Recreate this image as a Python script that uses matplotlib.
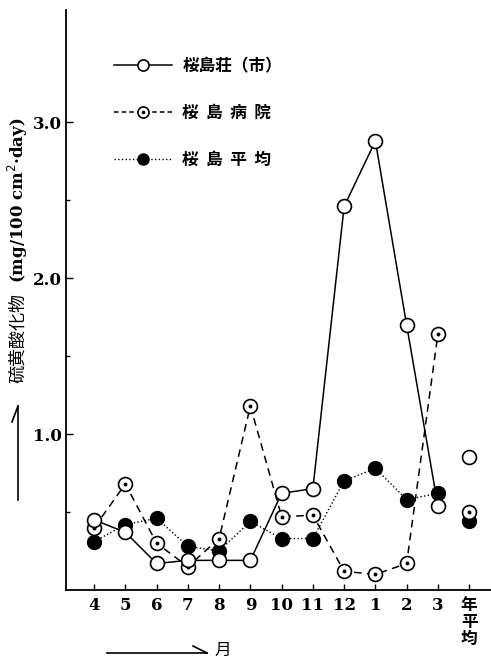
import matplotlib
matplotlib.use('Agg')
import matplotlib.pyplot as plt
from matplotlib.lines import Line2D
from matplotlib.legend_handler import HandlerTuple

# months Apr..Mar + annual mean
months = ['4', '5', '6', '7', '8', '9', '10', '11', '12', '1', '2', '3']
annual_label = '年\n平\n均'
xpos = list(range(4, 16))
x_annual = 16

# 桜島荘(市)
sou = [0.45, 0.37, 0.17, 0.19, 0.19, 0.19, 0.62, 0.65, 2.46, 2.88, 1.70, 0.54]
sou_avg = 0.85
# 桜島病院
byoin = [0.40, 0.68, 0.30, 0.15, 0.33, 1.18, 0.47, 0.48, 0.12, 0.10, 0.17, 1.64]
byoin_avg = 0.50
# 桜島平均
heikin = [0.31, 0.42, 0.46, 0.28, 0.25, 0.44, 0.33, 0.33, 0.70, 0.78, 0.58, 0.62]
heikin_avg = 0.44

W, H = 491, 663
fig = plt.figure(figsize=(W/100, H/100), dpi=100)
ax = fig.add_axes([66/W, 1-590/H, 1-66/W, 580/H])

ms = 10
mew = 1.2
lw = 1.1

def px(x, y):
    return x/W, 1-y/H

# solid / open circles
ax.plot(xpos, sou, '-', color='black', lw=lw, zorder=3)
# dashed / dotted circles
ax.plot(xpos, byoin, '--', color='black', lw=lw, dashes=(5, 3.5), zorder=2)
# dotted / filled circles
ax.plot(xpos, heikin, ':', color='black', lw=1.0, zorder=2)

ax.plot(xpos + [x_annual], heikin + [heikin_avg], 'o', ls='none', ms=ms, mfc='black', mec='black', zorder=4)
ax.plot(xpos + [x_annual], byoin + [byoin_avg], 'o', ls='none', ms=ms, mfc='white', mec='black', mew=mew, zorder=5)
ax.plot(xpos + [x_annual], byoin + [byoin_avg], 'o', ls='none', ms=1.8, mfc='black', mec='black', zorder=6)
ax.plot(xpos + [x_annual], sou + [sou_avg], 'o', ls='none', ms=ms, mfc='white', mec='black', mew=mew, zorder=7)

ax.set_xlim(3.1, 16.7)
ax.set_ylim(0, 3.72)
ax.spines['top'].set_visible(False)
ax.spines['right'].set_visible(False)
ax.spines['left'].set_linewidth(1.3)
ax.spines['bottom'].set_linewidth(1.3)

ax.set_yticks([1.0, 2.0, 3.0])
ax.set_yticks([0.5, 1.5, 2.5], minor=True)
ax.set_yticklabels(['1.0', '2.0', '3.0'], fontfamily='DejaVu Serif', fontweight='bold', fontsize=12)
ax.tick_params(axis='y', which='major', direction='in', length=5, width=1, pad=3)
ax.tick_params(axis='y', which='minor', direction='in', length=3, width=1)

ax.set_xticks(xpos + [x_annual])
ax.set_xticklabels(months + [annual_label], fontfamily=['DejaVu Serif', 'Noto Sans CJK JP'],
                   fontweight='bold', fontsize=12, va='top', linespacing=1.0)
ax.tick_params(axis='x', direction='in', length=4, width=1, pad=5)

# legend
lms = 8
h1 = Line2D([], [], color='black', lw=lw, marker='o', ms=lms, mfc='white', mec='black', mew=mew)
h2a = Line2D([], [], color='black', lw=lw, ls='--', dashes=(3, 2), marker='o', ms=lms, mfc='white', mec='black', mew=mew)
h2b = Line2D([], [], ls='none', marker='o', ms=1.6, mfc='black', mec='black')
h3 = Line2D([], [], color='black', lw=1.0, ls=':', marker='o', ms=lms, mfc='black', mec='black')
leg = ax.legend([h1, (h2a, h2b), h3], ['桜島荘（市）', '桜  島  病  院', '桜  島  平  均'],
                handler_map={tuple: HandlerTuple(ndivide=1)},
                loc='upper left', bbox_to_anchor=px(99, 42),
                bbox_transform=fig.transFigure, frameon=False, handlelength=3.5,
                labelspacing=1.75, handletextpad=0.6,
                prop={'family': 'Noto Sans CJK JP', 'size': 12, 'weight': 'bold'})

# y label
fig.text(*px(18, 383), '硫黄酸化物', rotation=90, ha='center', va='bottom',
         fontfamily='Noto Sans CJK JP', fontsize=13)
fig.text(*px(18, 283), '(mg/100 cm$^2$·day)', rotation=90, ha='center', va='bottom',
         fontfamily='DejaVu Serif', fontweight='bold', fontsize=12)

# vertical arrow
fig.add_artist(Line2D([px(18, 500)[0], px(18, 406)[0]], [px(18, 500)[1], px(18, 406)[1]],
                      color='black', lw=1.2, transform=fig.transFigure))
fig.add_artist(Line2D([px(18, 406)[0], px(12, 422)[0]], [px(18, 406)[1], px(12, 422)[1]],
                      color='black', lw=1.2, transform=fig.transFigure))
# horizontal arrow
fig.add_artist(Line2D([px(107, 653)[0], px(207, 653)[0]], [px(107, 653)[1], px(207, 653)[1]],
                      color='black', lw=1.2, transform=fig.transFigure))
fig.add_artist(Line2D([px(207, 653)[0], px(193, 646)[0]], [px(207, 653)[1], px(193, 646)[1]],
                      color='black', lw=1.2, transform=fig.transFigure))
fig.text(*px(214, 650), '月', ha='left', va='center', fontfamily='Noto Sans CJK JP', fontsize=12)

fig.savefig('out.png', dpi=100)
